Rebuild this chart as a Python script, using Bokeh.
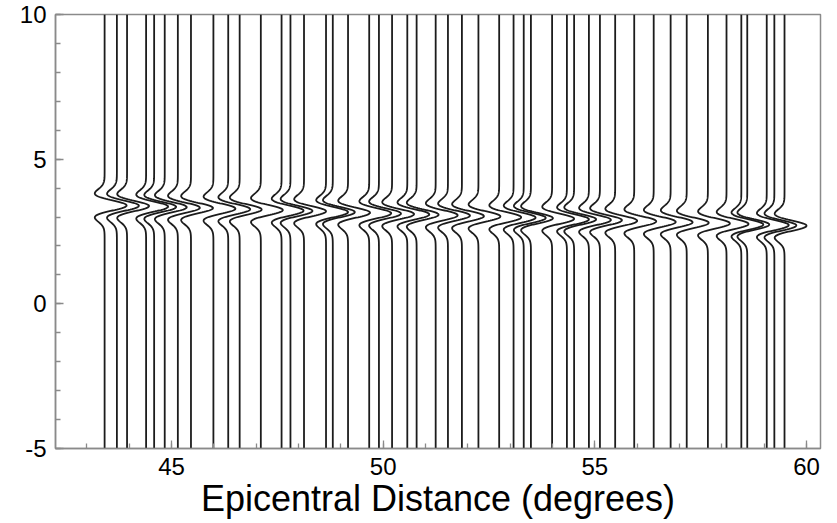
import numpy as np
from bokeh.plotting import figure
from bokeh.models import Range1d, FixedTicker, ColumnDataSource
from bokeh.embed import file_html
from bokeh.resources import INLINE

# Epicentral distances of the traces (degrees)
distances = [43.42, 43.71, 43.95, 44.40, 44.59, 44.84, 45.15, 45.46, 45.99, 46.34,
             46.61, 47.11, 47.60, 47.81, 48.13, 48.65, 48.81, 49.17, 49.67, 49.90,
             50.21, 50.57, 50.79, 51.24, 51.53, 51.86, 52.25, 52.74, 53.08, 53.32,
             53.49, 53.99, 54.34, 54.51, 54.86, 55.12, 55.48, 55.93, 56.39, 56.79,
             57.17, 57.67, 58.11, 58.46, 58.60, 59.06, 59.24, 59.48]
# Arrival time of the pulse on each trace (y units)
arrivals = [3.40, 3.39, 3.38, 3.36, 3.35, 3.34, 3.32, 3.31, 3.29, 3.27,
            3.26, 3.24, 3.22, 3.21, 3.20, 3.17, 3.17, 3.15, 3.13, 3.12,
            3.10, 3.09, 3.08, 3.06, 3.05, 3.03, 3.02, 2.99, 2.98, 2.97,
            2.96, 2.94, 2.92, 2.92, 2.90, 2.89, 2.87, 2.85, 2.83, 2.82,
            2.80, 2.78, 2.76, 2.74, 2.74, 2.72, 2.71, 2.70]
amplitude = 0.52
pulse_width = 0.24

x_ticks = [45, 50, 55, 60]
x_minor = list(range(43, 61))
y_ticks = [-5, 0, 5, 10]
y_minor = list(range(-5, 11))

t = np.linspace(-5, 10, 900)
xs, ys = [], []
for d, t0 in zip(distances, arrivals):
    u = (t - t0) / pulse_width
    w = (1 - u ** 2) * np.exp(-u ** 2 / 2)
    xs.append(d + amplitude * w)
    ys.append(t)
src = ColumnDataSource(dict(xs=xs, ys=ys))

p = figure(width=837, height=523, x_range=Range1d(42.26, 60.33), y_range=Range1d(-5, 10),
           output_backend="svg", toolbar_location=None,
           min_border_left=55, min_border_right=17, min_border_top=14, min_border_bottom=75)
p.background_fill_color = "white"
p.border_fill_color = "white"
p.outline_line_color = "#8a8a8a"
p.outline_line_width = 1.5
p.xgrid.visible = False
p.ygrid.visible = False

p.multi_line("xs", "ys", source=src, line_color="#1c1c1c", line_width=1.8)

p.xaxis.ticker = FixedTicker(ticks=x_ticks, minor_ticks=x_minor)
p.yaxis.ticker = FixedTicker(ticks=y_ticks, minor_ticks=y_minor)
for ax in (p.xaxis[0], p.yaxis[0]):
    ax.axis_line_color = "#8a8a8a"
    ax.axis_line_width = 1.5
    ax.major_tick_line_color = "#8a8a8a"
    ax.minor_tick_line_color = "#8a8a8a"
    ax.major_tick_line_width = 1.3
    ax.minor_tick_line_width = 1.3
    ax.major_tick_in = 8
    ax.major_tick_out = 0
    ax.minor_tick_in = 5
    ax.minor_tick_out = 0
    ax.major_label_text_font = "Liberation Sans"
    ax.major_label_text_font_size = "24px"
    ax.major_label_text_color = "black"
p.xaxis.major_label_standoff = 9
p.yaxis.major_label_standoff = 9
p.yaxis.major_label_overrides = {-5: "-5", 0: "0", 5: "5", 10: "10"}

p.xaxis.axis_label = "Epicentral Distance (degrees)"
p.xaxis.axis_label_text_font = "Liberation Sans"
p.xaxis.axis_label_text_font_style = "normal"
p.xaxis.axis_label_text_font_size = "36px"
p.xaxis.axis_label_text_color = "black"
p.xaxis.axis_label_standoff = 0

open("out.html", "w").write(file_html(p, INLINE))
